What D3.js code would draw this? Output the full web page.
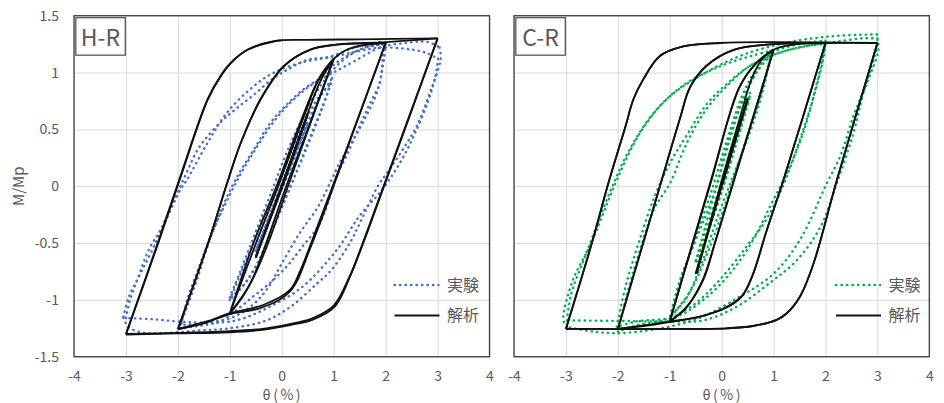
<!DOCTYPE html>
<html>
<head>
<meta charset="utf-8">
<script src="https://cdn.jsdelivr.net/npm/d3@7"></script>
<style>
  body { margin: 0; background: #fff; }
  svg { display: block; }
  text { font-family: "Noto Sans CJK JP", "Noto Sans", sans-serif; fill: #595959; }
</style>
</head>
<body>
<svg width="944" height="403"></svg>
<script>
// 目盛り
const xTicks = [-4, -3, -2, -1, 0, 1, 2, 3, 4];
const yTicks = [-1.5, -1, -0.5, 0, 0.5, 1, 1.5];
const seriesNames = ["実験", "解析"];
const panelNames = ["H-R", "C-R"];

// H-R 解析 (枝ごと)
const hrCalc = [
  [[0,0],[0.5,0.63]],
  [[0.5,0.63],[0,-0.02],[-0.5,-0.63]],
  [[-0.5,-0.63],[0,0.01],[0.5,0.64]],
  [[0.5,0.64],[0,-0.01],[-0.5,-0.62]],
  [[-0.5,-0.62],[0,0.0],[0.45,0.58],[0.75,0.93],[1,1.12]],
  [[1,1.12],[0.55,0.55],[0.12,0],[-0.22,-0.45],[-0.5,-0.76],[-0.75,-0.97],[-1,-1.12]],
  [[-1,-1.12],[-0.52,-0.47],[-0.1,0.0],[0.35,0.55],[0.7,0.93],[1,1.12]],
  [[1,1.12],[0.5,0.5],[0.07,-0.02],[-0.3,-0.5],[-0.6,-0.85],[-1,-1.12]],
  [[-1,-1.12],[-0.47,-0.47],[-0.05,0.02],[0.4,0.58],[0.72,0.95],[1,1.12],[1.25,1.2],[1.57,1.24],[2,1.26]],
  [[2,1.26],[1.25,0.33],[0.55,-0.52],[0.35,-0.75],[0.157,-0.912],[-0.357,-1.045],[-1,-1.117],[-1.446,-1.19],[-2,-1.256]],
  [[-2,-1.256],[-1.41,-0.49],[-1.05,0.03],[-0.79,0.38],[-0.41,0.765],[0.04,1.058],[0.54,1.2],[1.05,1.245],[2,1.26]],
  [[2,1.26],[1.25,0.32],[0.57,-0.52],[0.15,-0.93],[-0.4,-1.07],[-1,-1.125],[-1.45,-1.2],[-2,-1.26]],
  [[-2,-1.26],[-1.41,-0.49],[-1.05,0.03],[-0.79,0.38],[-0.41,0.76],[0.04,1.055],[0.54,1.2],[1.05,1.245],[2,1.268],[3,1.3]],
  [[3,1.3],[2.44,0.6],[1.96,0],[1.56,-0.5],[1.3,-0.8],[1.0,-1.05],[0.6,-1.16],[0.29,-1.2],[-0.3,-1.25],[-1,-1.275],[-2,-1.29],[-3,-1.3]],
  [[-3,-1.3],[-2.38,-0.49],[-1.95,0.09],[-1.43,0.765],[-1.18,0.97],[-0.98,1.087],[-0.665,1.2],[-0.15,1.277],[0.5,1.287],[1.5,1.292],[3,1.3]],
  [[3,1.3],[2.45,0.6],[1.97,0],[1.57,-0.5],[1.31,-0.8],[1.02,-1.06],[0.6,-1.175],[0.29,-1.21],[-0.3,-1.26],[-1,-1.285],[-2,-1.295],[-3,-1.305]],
  [[-3,-1.305],[-2.37,-0.49],[-1.94,0.09],[-1.42,0.765],[-1.17,0.97],[-0.97,1.087],[-0.655,1.2],[-0.14,1.275],[0,1.283]]
];

// H-R 実験
const hrTest = [
  [[0,0],[0.25,0.28],[0.5,0.55],[0.25,0.25],[0,-0.03],[-0.25,-0.3],[-0.5,-0.57],[-0.25,-0.28],[0,0.02],[0.25,0.3],[0.5,0.57],[0.25,0.27],[0,-0.02],[-0.25,-0.3],[-0.5,-0.57]],
  [[-0.5,-0.57],[-0.2,-0.22],[0.1,0.12],[0.4,0.45],[0.7,0.75],[0.97,0.95]],
  [[0.97,0.95],[0.8,0.72],[0.5,0.38],[0.2,0.03],[-0.1,-0.3],[-0.4,-0.62],[-0.7,-0.85],[-1.0,-1.0]],
  [[-1.0,-1.0],[-0.8,-0.78],[-0.5,-0.45],[-0.2,-0.12],[0.1,0.22],[0.4,0.52],[0.7,0.78],[0.95,0.9]],
  [[0.95,0.9],[0.75,0.65],[0.45,0.3],[0.15,-0.02],[-0.15,-0.35],[-0.45,-0.66],[-0.75,-0.88],[-1.0,-0.98]],
  [[-1.0,-0.98],[-0.8,-0.75],[-0.5,-0.4],[-0.2,-0.05],[0.1,0.3],[0.4,0.6],[0.7,0.85],[1.0,1.03],[1.3,1.15],[1.6,1.22],[2.0,1.25]],
  [[2.0,1.25],[1.97,1.12],[1.83,0.82],[1.63,0.62],[1.38,0.41],[1.12,0.21],[0.93,0.03],[0.7,-0.18],[0.35,-0.41],[0,-0.68],[-0.29,-0.91],[-0.6,-1.06],[-0.93,-1.15],[-1.4,-1.2],[-1.95,-1.22]],
  [[-1.95,-1.22],[-1.82,-1.06],[-1.63,-0.82],[-1.43,-0.53],[-1.24,-0.3],[-1.05,-0.09],[-0.8,0.13],[-0.54,0.32],[-0.23,0.55],[0.09,0.715],[0.41,0.85],[0.73,0.95],[0.99,1.066],[1.4,1.18],[1.7,1.23],[2.0,1.25]],
  [[2.0,1.25],[1.95,1.15],[1.89,0.91],[1.7,0.73],[1.5,0.53],[1.25,0.27],[1.06,0.09],[0.73,-0.33],[0.4,-0.53],[0.09,-0.71],[-0.25,-0.86],[-0.55,-0.97],[-0.9,-1.1],[-1.19,-1.19],[-1.6,-1.23],[-1.95,-1.25]],
  [[-1.95,-1.25],[-1.82,-1.0],[-1.6,-0.72],[-1.35,-0.42],[-1.1,-0.17],[-0.8,0.1],[-0.5,0.33],[-0.15,0.57],[0.2,0.75],[0.6,0.9],[1.0,1.0],[1.4,1.1],[1.9,1.22],[2.4,1.26],[2.8,1.27],[3.04,1.22]],
  [[3.04,1.22],[3.06,1.12],[2.85,0.82],[2.6,0.53],[2.34,0.33],[2.08,0.15],[1.85,0.0],[1.55,-0.28],[1.31,-0.5],[0.95,-0.74],[0.67,-0.86],[0.2,-1.05],[-0.29,-1.18],[-1.0,-1.25],[-1.6,-1.27],[-2.2,-1.29],[-2.65,-1.29],[-2.95,-1.24],[-3.05,-1.15]],
  [[-3.05,-1.15],[-2.94,-0.97],[-2.72,-0.77],[-2.46,-0.53],[-2.2,-0.27],[-1.95,-0.03],[-1.82,0.06],[-1.43,0.38],[-1.05,0.65],[-0.54,0.88],[-0.15,1.0],[0.4,1.09],[1.0,1.14],[1.5,1.19],[1.9,1.22],[2.53,1.2],[2.8,1.17],[3.01,1.12]],
  [[3.01,1.12],[2.95,0.95],[2.82,0.75],[2.55,0.45],[2.27,0.2],[1.9,-0.05],[1.5,-0.26],[1.06,-0.56],[0.41,-0.88],[-0.23,-1.06],[-0.87,-1.18],[-1.5,-1.2],[-2.0,-1.19],[-2.5,-1.17],[-3.0,-1.16]],
  [[-3.0,-1.16],[-2.92,-1.0],[-2.78,-0.82],[-2.55,-0.55],[-2.33,-0.38],[-2.1,-0.15],[-1.85,0.1],[-1.58,0.35],[-1.16,0.57],[-0.87,0.685],[-0.55,0.8],[-0.16,0.95],[0.09,1.02],[0.48,1.11],[0.93,1.14],[1.4,1.22],[1.9,1.27]]
];

// C-R 解析
const crCalc = [
  [[0,0],[0.5,0.77]],
  [[0.5,0.77],[0,0.01],[-0.5,-0.77]],
  [[-0.5,-0.77],[0,0.0],[0.5,0.77]],
  [[0.5,0.77],[0.03,0.05],[-0.48,-0.766]],
  [[-0.48,-0.766],[-0.03,0.0],[0.35,0.6],[0.6,0.97],[0.8,1.13],[1,1.2]],
  [[1,1.2],[0.225,0.03],[-0.13,-0.5],[-0.35,-0.82],[-0.67,-1.06],[-1,-1.19]],
  [[-1,-1.19],[-0.22,0.03],[0.354,0.88],[0.677,1.087],[1,1.2]],
  [[1,1.2],[0.2,0.0],[-0.15,-0.53],[-0.38,-0.84],[-0.7,-1.08],[-1,-1.19]],
  [[-1,-1.19],[-0.21,0.03],[0.33,0.86],[0.66,1.08],[1,1.2],[1.3,1.24],[1.6,1.255],[2,1.26]],
  [[2,1.26],[1.19,0.055],[0.87,-0.385],[0.6,-0.78],[0.4,-0.96],[0.1,-1.06],[-0.42,-1.147],[-1,-1.19],[-1.51,-1.225],[-2,-1.256]],
  [[-2,-1.256],[-1.17,0.03],[-0.8,0.6],[-0.61,0.87],[-0.29,1.06],[0.23,1.2],[1.0,1.25],[2,1.26]],
  [[2,1.26],[1.18,0.04],[0.86,-0.4],[0.59,-0.79],[0.39,-0.97],[0.09,-1.07],[-0.43,-1.15],[-1,-1.195],[-1.5,-1.23],[-2,-1.256]],
  [[-2,-1.256],[-1.17,0.03],[-0.8,0.6],[-0.61,0.87],[-0.29,1.06],[0.23,1.2],[1.0,1.25],[2,1.26],[3,1.26]],
  [[3,1.26],[2.22,0.055],[1.77,-0.68],[1.51,-0.97],[1.25,-1.12],[1.06,-1.176],[0.6,-1.23],[0.1,-1.25],[-1,-1.256],[-3,-1.256]],
  [[-3,-1.256],[-2.5,-0.5],[-2.18,0.03],[-1.85,0.53],[-1.7,0.765],[-1.51,0.94],[-1.19,1.145],[-0.74,1.23],[-0.03,1.26],[3,1.26]],
  [[3,1.26],[2.22,0.055],[1.77,-0.68],[1.51,-0.97],[1.25,-1.12],[1.06,-1.176],[0.6,-1.23],[0.1,-1.25],[-1,-1.256],[-3,-1.256]],
  [[-3,-1.256],[-2.5,-0.5],[-2.18,0.03],[-1.85,0.53],[-1.7,0.765],[-1.51,0.94],[-1.19,1.145],[-0.74,1.23],[-0.03,1.26],[0,1.26]]
];

// C-R 実験
const crTest = [
  [[0,0],[0.3,0.45],[0.55,0.8],[0.3,0.4],[0,-0.05],[-0.3,-0.45],[-0.5,-0.68],[-0.2,-0.25],[0.2,0.33],[0.55,0.82],[0.2,0.25],[-0.2,-0.32],[-0.5,-0.66]],
  [[-0.5,-0.66],[-0.1,0.0],[0.22,0.53],[0.55,0.9],[0.8,1.1],[0.95,1.17]],
  [[0.95,1.17],[0.8,0.85],[0.61,0.56],[0.42,0.325],[0.22,0.09],[-0.1,-0.3],[-0.4,-0.7],[-0.7,-1.0],[-0.99,-1.14]],
  [[-0.99,-1.14],[-0.8,-0.82],[-0.55,-0.53],[-0.29,-0.24],[-0.1,0.0],[0.15,0.4],[0.4,0.75],[0.7,1.02],[0.95,1.15]],
  [[0.95,1.15],[0.75,0.8],[0.5,0.45],[0.25,0.1],[0.0,-0.25],[-0.3,-0.62],[-0.6,-0.92],[-0.98,-1.15]],
  [[-0.98,-1.15],[-0.8,-0.85],[-0.5,-0.45],[-0.2,-0.05],[0.1,0.4],[0.4,0.8],[0.7,1.05],[1.0,1.18],[1.5,1.25],[2.0,1.28]],
  [[2.0,1.28],[1.99,1.23],[1.83,0.9],[1.57,0.47],[1.25,0.11],[0.93,-0.18],[0.61,-0.47],[0.16,-0.77],[-0.35,-1.0],[-0.87,-1.147],[-1.64,-1.19],[-2.02,-1.236]],
  [[-2.02,-1.236],[-1.85,-0.88],[-1.6,-0.5],[-1.3,-0.1],[-1.0,0.2],[-0.67,0.45],[-0.29,0.72],[0.1,0.9],[0.55,1.06],[1.12,1.175],[1.64,1.233],[2.0,1.25]],
  [[2.0,1.25],[1.95,1.1],[1.75,0.75],[1.5,0.4],[1.2,0.02],[0.85,-0.3],[0.48,-0.53],[-0.03,-0.82],[-0.5,-1.03],[-1.0,-1.16],[-1.6,-1.22],[-2.0,-1.28]],
  [[-2.0,-1.28],[-1.85,-1.0],[-1.6,-0.6],[-1.3,-0.2],[-0.99,0.03],[-0.67,0.38],[-0.29,0.68],[0.1,0.88],[0.55,1.06],[1.12,1.175],[1.64,1.233],[2.2,1.27],[2.7,1.3],[3.0,1.3]],
  [[3.0,1.3],[3.02,1.2],[2.8,0.91],[2.54,0.62],[2.29,0.27],[2.03,0.03],[1.51,-0.47],[1.0,-0.77],[0.355,-0.97],[-0.55,-1.18],[-1.83,-1.29],[-2.47,-1.28],[-2.98,-1.236]],
  [[-2.98,-1.236],[-3.05,-1.18],[-2.86,-0.82],[-2.54,-0.53],[-2.28,-0.24],[-2.02,0.055],[-1.57,0.47],[-1.06,0.765],[-0.42,0.97],[0.355,1.146],[1.25,1.263],[2.15,1.32],[2.99,1.336]],
  [[2.99,1.336],[3.0,1.25],[2.73,0.82],[2.54,0.47],[2.22,0.03],[1.9,-0.36],[1.45,-0.65],[0.93,-0.85],[0.29,-1.06],[-0.35,-1.18],[-1.0,-1.19],[-2.0,-1.185],[-2.98,-1.18]],
  [[-2.98,-1.18],[-2.9,-0.95],[-2.7,-0.7],[-2.45,-0.4],[-2.15,-0.05],[-1.8,0.3],[-1.3,0.65],[-0.7,0.9],[0.0,1.06],[0.6,1.15],[1.2,1.22]]
];

const svg = d3.select("svg");
const plotTop = 15.7, plotBottom = 356.7;
const panels = [
  { name: panelNames[0], left: 74, right: 489.5, test: hrTest, calc: hrCalc, color: "#4472C4", yLabels: true, legendX: 394.5 },
  { name: panelNames[1], left: 514, right: 929.3, test: crTest, calc: crCalc, color: "#00B050", yLabels: false, legendX: 836 }
];

const y = d3.scaleLinear().domain([-1.5, 1.5]).range([plotBottom, plotTop]);

panels.forEach(p => {
  const x = d3.scaleLinear().domain([-4, 4]).range([p.left, p.right]);
  const g = svg.append("g");

  // グリッド
  g.append("g")
    .attr("transform", `translate(0,${plotBottom})`)
    .call(d3.axisBottom(x).tickValues(xTicks).tickSize(-(plotBottom - plotTop)).tickFormat(""))
    .call(a => a.select(".domain").remove())
    .call(a => a.selectAll("line").attr("stroke", "#d9d9d9").attr("stroke-width", 1));
  g.append("g")
    .attr("transform", `translate(${p.left},0)`)
    .call(d3.axisLeft(y).tickValues(yTicks).tickSize(-(p.right - p.left)).tickFormat(""))
    .call(a => a.select(".domain").remove())
    .call(a => a.selectAll("line").attr("stroke", "#d9d9d9").attr("stroke-width", 1));

  // 目盛りラベル (半角ハイフン)
  g.append("g")
    .attr("transform", `translate(0,${plotBottom})`)
    .call(d3.axisBottom(x).tickValues(xTicks).tickSize(0).tickPadding(14.5).tickFormat(d => String(d)))
    .call(a => a.select(".domain").remove())
    .call(a => a.selectAll("text").attr("font-size", 14).attr("fill", "#595959")
      .attr("font-family", "'Noto Sans CJK JP', sans-serif"));

  if (p.yLabels) {
    g.append("g")
      .attr("transform", `translate(${p.left},0)`)
      .call(d3.axisLeft(y).tickValues(yTicks).tickSize(0).tickPadding(15).tickFormat(d => String(d)))
      .call(a => a.select(".domain").remove())
      .call(a => a.selectAll("text").attr("font-size", 14).attr("fill", "#595959")
        .attr("font-family", "'Noto Sans CJK JP', sans-serif"));
    g.append("text")
      .attr("transform", `translate(19,${(plotTop + plotBottom) / 2}) rotate(-90)`)
      .attr("text-anchor", "middle")
      .attr("dy", "0.35em")
      .attr("font-size", 15)
      .text("M/Mp");
  }

  // 軸タイトル (目盛りと重ならないよう詰めた欧文フォント)
  g.append("text")
    .attr("x", (p.left + p.right) / 2 + 1)
    .attr("y", 399.5)
    .attr("text-anchor", "middle")
    .attr("font-family", "'DejaVu Sans', sans-serif")
    .attr("font-size", 14)
    .attr("letter-spacing", 2.5)
    .text("θ(%)");

  // 曲線
  const line = d3.line()
    .x(d => x(d[0]))
    .y(d => y(d[1]))
    .curve(d3.curveCatmullRom.alpha(0.5));

  const plot = g.append("g");
  plot.selectAll("path.test")
    .data(p.test)
    .join("path")
    .attr("class", "test")
    .attr("d", line)
    .attr("fill", "none")
    .attr("stroke", p.color)
    .attr("stroke-width", 2.4)
    .attr("stroke-linecap", "round")
    .attr("stroke-dasharray", "0.4 5.1");

  plot.selectAll("path.calc")
    .data(p.calc)
    .join("path")
    .attr("class", "calc")
    .attr("d", line)
    .attr("fill", "none")
    .attr("stroke", "#111")
    .attr("stroke-width", 1.8)
    .attr("stroke-linejoin", "round");

  // 枠
  g.append("rect")
    .attr("x", p.left).attr("y", plotTop)
    .attr("width", p.right - p.left).attr("height", plotBottom - plotTop)
    .attr("fill", "none")
    .attr("stroke", "#404040")
    .attr("stroke-width", 1.3);

  // パネル名
  g.append("rect")
    .attr("x", p.left + 1.8).attr("y", plotTop + 2)
    .attr("width", 49.5).attr("height", 37.5)
    .attr("fill", "#fff")
    .attr("stroke", "#595959")
    .attr("stroke-width", 1.3);
  g.append("text")
    .attr("x", p.left + 26.5).attr("y", plotTop + 30)
    .attr("text-anchor", "middle")
    .attr("font-size", 23)
    .text(p.name);

  // 凡例
  const lg = g.append("g");
  lg.append("line")
    .attr("x1", p.legendX).attr("x2", p.legendX + 44)
    .attr("y1", 285).attr("y2", 285)
    .attr("stroke", p.color).attr("stroke-width", 2.4)
    .attr("stroke-linecap", "round").attr("stroke-dasharray", "0.4 5.1");
  lg.append("line")
    .attr("x1", p.legendX).attr("x2", p.legendX + 45)
    .attr("y1", 315.5).attr("y2", 315.5)
    .attr("stroke", "#111").attr("stroke-width", 1.8);
  lg.selectAll("text")
    .data(seriesNames)
    .join("text")
    .attr("x", p.legendX + 52.5)
    .attr("y", (d, i) => [285, 315.5][i])
    .attr("dy", "0.36em")
    .attr("font-size", 16)
    .text(d => d);
});
</script>
</body>
</html>
